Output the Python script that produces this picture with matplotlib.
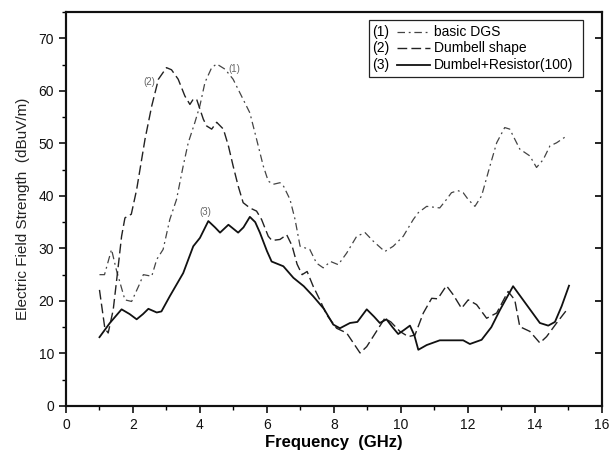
import matplotlib
matplotlib.use("Agg")
import matplotlib.pyplot as plt
from matplotlib.ticker import MultipleLocator, NullLocator
from matplotlib.lines import Line2D
from matplotlib.patches import Rectangle

plt.rcParams['font.family'] = ['Liberation Sans', 'DejaVu Sans']

# Series (1) basic DGS
x1 = [1.0, 1.15, 1.36, 1.5, 1.76, 1.96, 2.21, 2.31, 2.56, 2.71, 2.9, 3.1, 3.3, 3.5, 3.65, 3.85, 4.0, 4.15,
      4.35, 4.5, 4.75, 4.99, 5.24, 5.49, 5.69, 5.89, 6.04, 6.19, 6.39, 6.5, 6.69, 6.84, 6.99, 7.28, 7.48,
      7.68, 7.9, 8.13, 8.38, 8.68, 8.93, 9.17, 9.52, 9.77, 10.07, 10.37, 10.52, 10.77, 11.16, 11.36, 11.51,
      11.7, 11.86, 12.01, 12.21, 12.41, 12.66, 12.86, 13.1, 13.25, 13.55, 13.85, 14.05, 14.25, 14.45,
      14.65, 14.95]
y1 = [25, 25, 29.8, 26, 20.2, 19.9, 23.4, 25, 24.7, 27.9, 29.8, 35.5, 39.3, 45.7, 50.1, 54, 57.2, 61.6,
      64.4, 65.1, 64.1, 62.2, 59, 55.8, 50.8, 45.7, 42.8, 42.2, 42.5, 41.8, 39.3, 35.5, 30.4, 29.8, 27.2,
      26.3, 27.5, 26.9, 29.1, 32.3, 33, 31.4, 29.4, 30.4, 32.3, 35.5, 36.8, 38, 37.7, 39.3, 40.6,
      41, 40.6, 39.3, 38, 40, 45.7, 50.1, 53, 52.7, 48.9, 47.6, 45.4, 46.9, 49.5,
      50.1, 51.4]

# Series (2) Dumbell shape
x2 = [1.0, 1.16, 1.26, 1.41, 1.56, 1.66, 1.76, 1.86, 1.95, 2.11, 2.36, 2.56, 2.76, 3.0, 3.15, 3.35, 3.55,
      3.7, 3.8, 3.9, 4.1, 4.2, 4.35, 4.5, 4.7, 4.85, 4.99, 5.14, 5.29, 5.49, 5.69, 5.84, 6.04, 6.15, 6.39,
      6.59, 6.75, 6.9, 7.05, 7.2, 7.38, 7.58, 7.78, 8.08, 8.38, 8.58, 8.78, 8.98, 9.25, 9.52, 9.7, 9.97,
      10.22, 10.42, 10.67, 10.92, 11.1, 11.36, 11.56, 11.81, 12.01, 12.26, 12.56, 12.86, 13.2, 13.4, 13.55,
      13.85, 14.15, 14.35, 14.65, 14.99]
y2 = [22.1, 14.8, 13.9, 18.3, 26.6, 32.3, 35.8, 36.2, 36.5, 41.2, 50.8, 57.1, 62.2, 64.4, 64, 62.2, 59,
      57.4, 58.4, 58.4, 54.6, 53.3, 52.7, 54, 52.7, 49.5, 45.7, 41.9, 38.7, 37.7, 37.1, 35.5, 32.3, 31.5, 31.7,
      32.6, 30.5, 27, 25, 25.6, 22.8, 20.2, 17.4, 14.8, 13.9, 12, 10.1, 11.3, 14, 16.7, 16, 14.2,
      13.2, 13.5, 17.7, 20.5, 20.4, 22.9, 21.2, 18.6, 20.2, 19.3, 16.7, 17.7, 21.8, 20.2, 15.1,
      14.2, 12, 13.2, 15.8, 18.6]

# Series (3) Dumbel+Resistor(100)
x3 = [1.0, 1.31, 1.66, 1.9, 2.11, 2.3, 2.46, 2.71, 2.85, 3.1, 3.5, 3.8, 4.0, 4.25, 4.45, 4.6, 4.85, 5.14,
      5.3, 5.49, 5.65, 5.79, 6.0, 6.14, 6.49, 6.79, 7.1, 7.38, 7.7, 7.98, 8.18, 8.48, 8.7, 8.98, 9.2, 9.37,
      9.57, 9.75, 9.92, 10.1, 10.27, 10.4, 10.52, 10.77, 11.16, 11.5, 11.86, 12.06, 12.41, 12.7, 12.96,
      13.35, 13.75, 14.15, 14.4, 14.6, 14.8, 15.02]
y3 = [13.1, 15.8, 18.4, 17.5, 16.5, 17.5, 18.5, 17.8, 18.0, 20.9, 25.3, 30.4, 32, 35.2, 34, 33, 34.5, 33,
      34, 36, 35, 33, 29.5, 27.5, 26.6, 24.4, 22.8, 20.9, 18.5, 15.5, 14.8, 15.8, 16, 18.4, 17, 15.8,
      16.5, 15, 13.7, 14.5, 15.3, 13.5, 10.7, 11.6, 12.5, 12.5, 12.5, 11.8, 12.6, 15, 18.3,
      22.8, 19.3, 15.8, 15.3, 16, 19, 22.9]

legend_labels = ["basic DGS", "Dumbell shape", "Dumbel+Resistor(100)"]
curve_tags = ["(1)", "(2)", "(3)"]

fig = plt.figure(figsize=(6.11, 4.55), dpi=100)
ax = fig.add_axes([0.108, 0.1077, 0.877, 0.866])

style1 = dict(color='#444444', lw=0.9, linestyle=(0, (6, 3, 1.5, 3)))
style2 = dict(color='#222222', lw=1.0, linestyle=(0, (7, 3)))
style3 = dict(color='#111111', lw=1.3, linestyle='-')

ax.plot(x1, y1, **style1)
ax.plot(x2, y2, **style2)
ax.plot(x3, y3, **style3)

ax.text(5.04, 64.1, curve_tags[0], fontsize=7, color='#666666', ha='center', va='center')
ax.text(2.5, 61.6, curve_tags[1], fontsize=7, color='#666666', ha='center', va='center')
ax.text(4.17, 36.9, curve_tags[2], fontsize=7, color='#666666', ha='center', va='center')

ax.set_xlim(0, 16)
ax.set_ylim(0, 75)
ax.xaxis.set_major_locator(MultipleLocator(2))
ax.xaxis.set_minor_locator(MultipleLocator(1))
ax.yaxis.set_minor_locator(MultipleLocator(5))
ax.set_yticks(range(0, 71, 10))
ax.tick_params(axis='both', which='major', direction='out', length=5, width=1.2, labelsize=10, colors='#111111')
ax.tick_params(axis='both', which='minor', direction='out', length=3, width=1.0)
for sp in ax.spines.values():
    sp.set_linewidth(1.5)
    sp.set_color('#111111')

# right-side inward ticks
tw = ax.twinx()
tw.set_ylim(0, 75)
tw.set_yticks(range(0, 71, 10))
tw.yaxis.set_minor_locator(NullLocator())
tw.tick_params(axis='y', which='major', direction='in', length=5, width=1.2, labelright=False, right=True)
for sp in tw.spines.values():
    sp.set_linewidth(1.5)
    sp.set_color('#111111')

ax.set_xlabel("Frequency  (GHz)", fontsize=12, fontweight='bold', labelpad=2)
ax.set_ylabel("Electric Field Strength  (dBuV/m)", fontsize=11, labelpad=6, color='#222222')

# legend box (manual, Origin style)
tw.add_patch(Rectangle((0.565, 0.835), 0.399, 0.145, transform=tw.transAxes,
                       facecolor='white', edgecolor='#222222', lw=0.9, zorder=5))
styles = [style1, style2, style3]
for i in range(3):
    yy = 0.950 - i * 0.042
    tw.text(0.571, yy, curve_tags[i], transform=tw.transAxes, fontsize=10, va='center', zorder=6)
    tw.add_line(Line2D([0.617, 0.679], [yy, yy], transform=tw.transAxes, zorder=6, **styles[i]))
    tw.text(0.687, yy, legend_labels[i], transform=tw.transAxes, fontsize=10, va='center', zorder=6)

fig.savefig("out.png", dpi=100)
